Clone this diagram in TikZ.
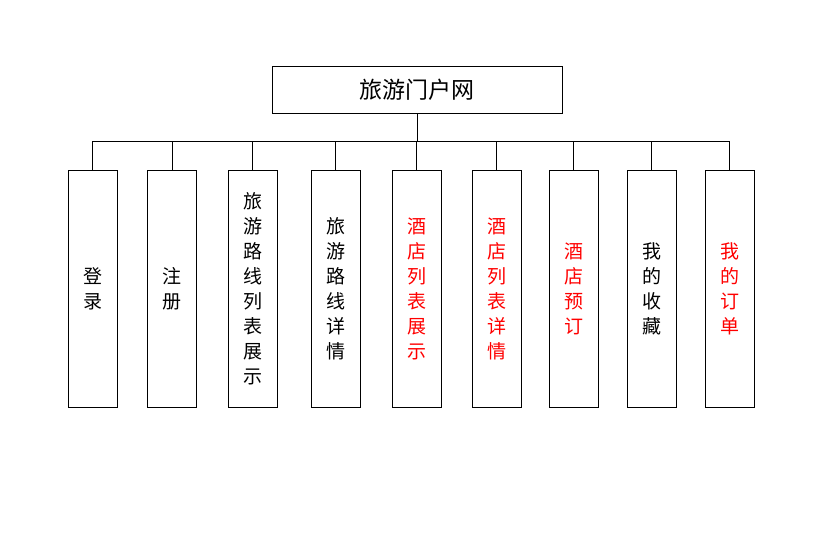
\documentclass[tikz,border=0pt]{standalone}
\usepackage{fontspec}
\newfontfamily\cjk{Noto Sans CJK SC}
\begin{document}
\begin{tikzpicture}[x=1pt,y=-1pt,
  box/.style={draw,line width=1pt,minimum width=49pt,minimum height=237pt,anchor=north,inner sep=0pt,font=\cjk\fontsize{19}{25}\selectfont,align=center},
  ln/.style={line width=1pt}]
\useasboundingbox (0,0) rectangle (831,538);
\node[draw,line width=1pt,minimum width=290pt,minimum height=47pt,font=\cjk\fontsize{23}{28}\selectfont] (top) at (417,89.5) {旅游门户网};
\coordinate (bus) at (417,141);
\foreach \x/\n/\t/\c in {92.5/a/{登\\录}/black,172/b/{注\\册}/black,252.5/c/{旅\\游\\路\\线\\列\\表\\展\\示}/black,335.5/d/{旅\\游\\路\\线\\详\\情}/black,416.5/e/{酒\\店\\列\\表\\展\\示}/red,496.5/f/{酒\\店\\列\\表\\详\\情}/red,573.5/g/{酒\\店\\预\\订}/red,651.5/h/{我\\的\\收\\藏}/black,729.5/i/{我\\的\\订\\单}/red}{
  \node[box,text=\c] (\n) at (\x,170) {\t};
  \draw[ln] (\n.north) -- (\x,141);
}
\draw[ln] (top.south) -- (bus);
\draw[ln] (a.north |- bus) -- (i.north |- bus);
\end{tikzpicture}
\end{document}
